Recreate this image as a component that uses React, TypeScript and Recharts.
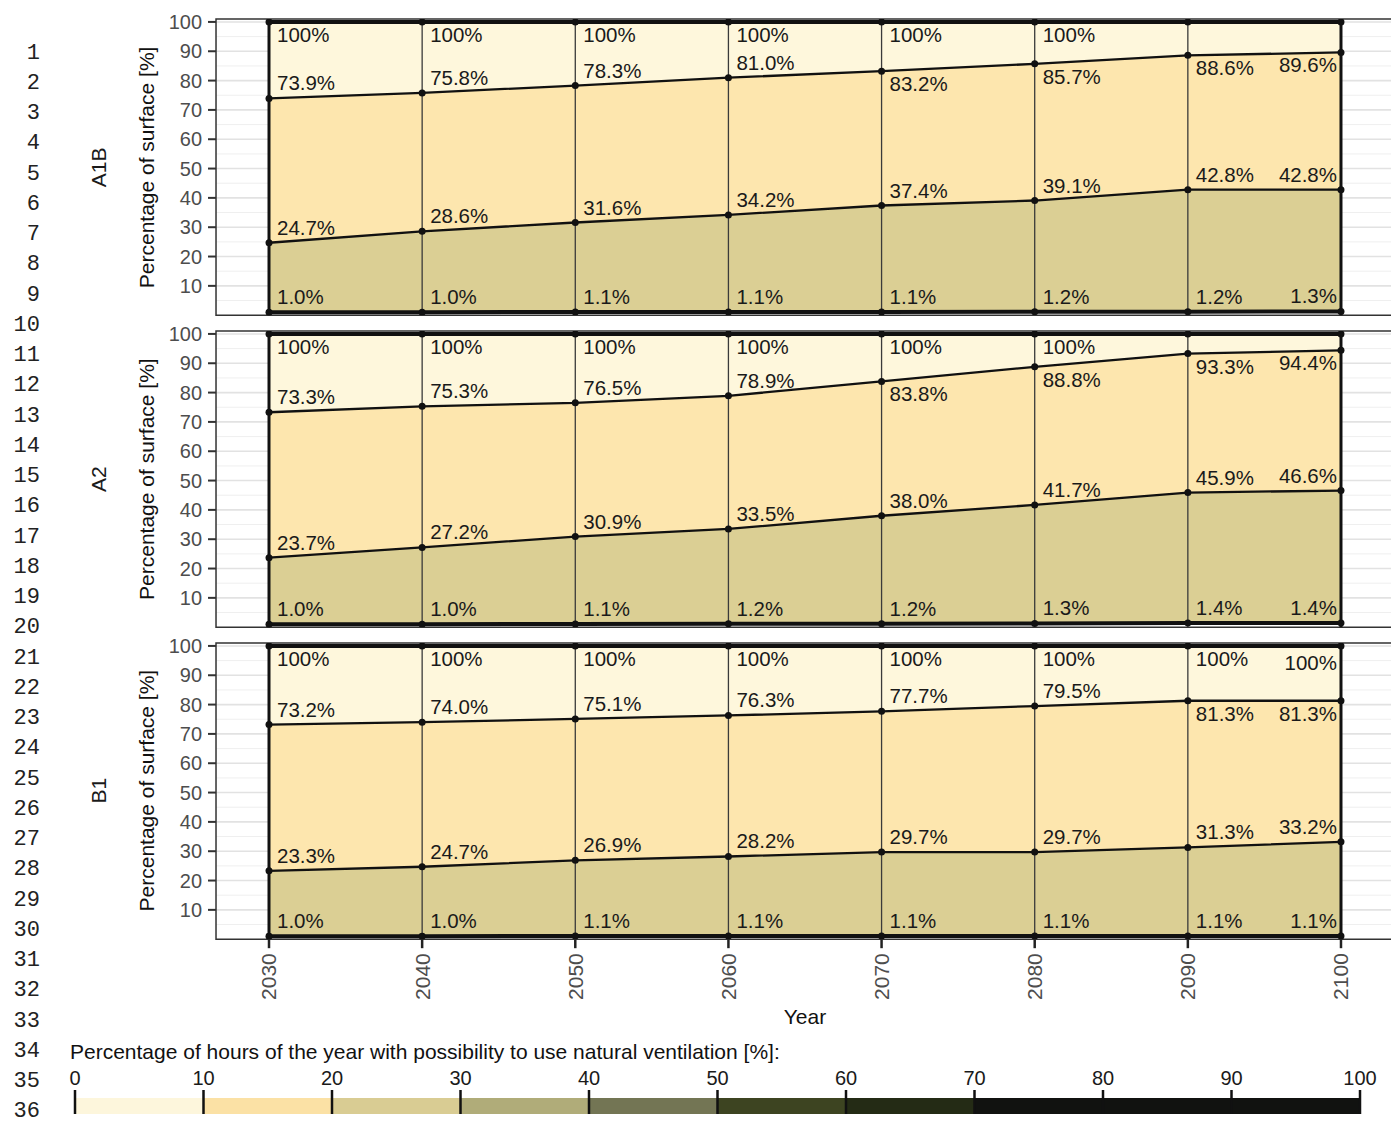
import React from 'react';
import {
  ComposedChart, Area, Line, XAxis, YAxis, CartesianGrid, ReferenceLine, ReferenceArea,
  LabelList, BarChart, Bar,
} from 'recharts';

const years = [2030, 2040, 2050, 2060, 2070, 2080, 2090, 2100];

const a1bBase = [1.0, 1.0, 1.1, 1.1, 1.1, 1.2, 1.2, 1.3];
const a1bLower = [24.7, 28.6, 31.6, 34.2, 37.4, 39.1, 42.8, 42.8];
const a1bUpper = [73.9, 75.8, 78.3, 81.0, 83.2, 85.7, 88.6, 89.6];
const a1bShowTop = [true, true, true, true, true, true, false, false];
const a1bUpperSide = ['above', 'above', 'above', 'above', 'below', 'below', 'below', 'below'];

const a2Base = [1.0, 1.0, 1.1, 1.2, 1.2, 1.3, 1.4, 1.4];
const a2Lower = [23.7, 27.2, 30.9, 33.5, 38.0, 41.7, 45.9, 46.6];
const a2Upper = [73.3, 75.3, 76.5, 78.9, 83.8, 88.8, 93.3, 94.4];
const a2ShowTop = [true, true, true, true, true, true, false, false];
const a2UpperSide = ['above', 'above', 'above', 'above', 'below', 'below', 'below', 'below'];

const b1Base = [1.0, 1.0, 1.1, 1.1, 1.1, 1.1, 1.1, 1.1];
const b1Lower = [23.3, 24.7, 26.9, 28.2, 29.7, 29.7, 31.3, 33.2];
const b1Upper = [73.2, 74.0, 75.1, 76.3, 77.7, 79.5, 81.3, 81.3];
const b1ShowTop = [true, true, true, true, true, true, true, true];
const b1UpperSide = ['above', 'above', 'above', 'above', 'above', 'above', 'below', 'below'];

const yTicks = [10, 20, 30, 40, 50, 60, 70, 80, 90, 100];
const yMinor = [5, 15, 25, 35, 45, 55, 65, 75, 85, 95];

const legendTicks = [0, 10, 20, 30, 40, 50, 60, 70, 80, 90, 100];
const legendColors = ['#fdf6dc', '#fbe1a5', '#d9cc93', '#b0ac79', '#737554', '#3d4421', '#242b15', '#111210', '#111210', '#111210'];

const bandColors = { low: '#dbcf94', mid: '#fde6ae', top: '#fef7dc' };

const FONT = '"Liberation Sans", Arial, sans-serif';
const X_DOMAIN: [number, number] = [2026.54, 2103.46];
const PLOT_H = 296.2;
const PANEL_TOPS = [19.3, 331, 642.5];

type Scenario = {
  name: string;
  base: number[];
  lower: number[];
  upper: number[];
  showTop: boolean[];
  upperSide: string[];
};

const scenarios: Scenario[] = [
  { name: 'A1B', base: a1bBase, lower: a1bLower, upper: a1bUpper, showTop: a1bShowTop, upperSide: a1bUpperSide },
  { name: 'A2', base: a2Base, lower: a2Lower, upper: a2Upper, showTop: a2ShowTop, upperSide: a2UpperSide },
  { name: 'B1', base: b1Base, lower: b1Lower, upper: b1Upper, showTop: b1ShowTop, upperSide: b1UpperSide },
];

const buildRows = (s: Scenario) =>
  years.map((year, i) => ({
    year,
    base: s.base[i],
    lower: s.lower[i],
    upper: s.upper[i],
    top: 100,
    bandLow: [s.base[i], s.lower[i]],
    bandMid: [s.lower[i], s.upper[i]],
    bandTop: [s.upper[i], 100],
  }));

const makeLabel = (texts: (string | null)[], sides: string[], lastExtra = 0) => (props: any) => {
  const { x, y, index } = props;
  const t = texts[index];
  if (t == null || x == null || y == null) return null;
  const last = index === years.length - 1;
  const dy = (sides[index] === 'above' ? -15.5 : 12.5) + (last ? lastExtra : 0);
  return (
    <text
      x={last ? x - 4 : x + 8}
      y={y + dy}
      textAnchor={last ? 'end' : 'start'}
      dominantBaseline="central"
      fontSize={20.5}
      fontFamily={FONT}
      fill="#1a1a1a"
    >
      {t}
    </text>
  );
};

const pct = (v: number) => `${v.toFixed(1)}%`;

const XTick = (props: any) => {
  const { x, y, payload } = props;
  return (
    <text
      x={x}
      y={y + 3}
      transform={`rotate(-90 ${x} ${y + 3})`}
      textAnchor="end"
      dominantBaseline="central"
      fontSize={21}
      fontFamily={FONT}
      fill="#4d4d4d"
    >
      {payload.value}
    </text>
  );
};

const Panel = ({ s, idx }: { s: Scenario; idx: number }) => {
  const rows = buildRows(s);
  const isLast = idx === scenarios.length - 1;
  const mt = 15;
  const xAxisH = isLast ? 90 : 0;
  const height = mt + PLOT_H + (isLast ? xAxisH : 6);
  const topTexts = s.showTop.map((v) => (v ? '100%' : null));
  const allAbove = years.map(() => 'above');
  const allBelow = years.map(() => 'below');
  return (
    <div style={{ position: 'absolute', left: 0, top: PANEL_TOPS[idx] - mt }}>
      <ComposedChart
        width={1394}
        height={height}
        data={rows}
        margin={{ top: mt, right: 0, bottom: isLast ? 0 : 6, left: 0 }}
      >
        <CartesianGrid vertical={false} horizontalValues={yMinor} stroke="#efefef" strokeWidth={1} />
        <CartesianGrid vertical={false} horizontalValues={yTicks} stroke="#e2e2e2" strokeWidth={1.6} />
        <XAxis
          type="number"
          dataKey="year"
          domain={X_DOMAIN}
          ticks={years}
          allowDataOverflow
          hide={!isLast}
          height={xAxisH}
          axisLine={false}
          tickLine={{ stroke: '#222', strokeWidth: 2.5 }}
          tickSize={9}
          tick={<XTick />}
          interval={0}
        />
        <YAxis
          type="number"
          domain={[0, 101]}
          ticks={yTicks}
          allowDataOverflow
          width={216}
          axisLine={false}
          tickLine={{ stroke: '#333', strokeWidth: 2 }}
          tickSize={8}
          tickMargin={6}
          tick={{ fontSize: 20, fontFamily: FONT, fill: '#4d4d4d' }}
          interval={0}
        />
        <Area type="linear" dataKey="bandLow" stroke="none" fill={bandColors.low} fillOpacity={1} isAnimationActive={false} />
        <Area type="linear" dataKey="bandMid" stroke="none" fill={bandColors.mid} fillOpacity={1} isAnimationActive={false} />
        <Area type="linear" dataKey="bandTop" stroke="none" fill={bandColors.top} fillOpacity={1} isAnimationActive={false} />
        <ReferenceArea x1={X_DOMAIN[0]} x2={X_DOMAIN[1]} y1={0} y2={101} fill="none" stroke="#333" strokeWidth={1.5} />
        {years.map((yr, i) => {
          const edge = i === 0 || i === years.length - 1;
          return (
            <ReferenceLine
              key={yr}
              x={yr}
              stroke={edge ? '#111' : '#3a3a3a'}
              strokeWidth={edge ? 3 : 1.3}
            />
          );
        })}
        <Line type="linear" dataKey="base" stroke="#111" strokeWidth={4} dot={{ r: 3.5, fill: '#111', stroke: 'none' }} isAnimationActive={false}>
          <LabelList dataKey="base" content={makeLabel(s.base.map(pct), allAbove)} />
        </Line>
        <Line type="linear" dataKey="lower" stroke="#111" strokeWidth={2.3} dot={{ r: 3.5, fill: '#111', stroke: 'none' }} isAnimationActive={false}>
          <LabelList dataKey="lower" content={makeLabel(s.lower.map(pct), allAbove)} />
        </Line>
        <Line type="linear" dataKey="upper" stroke="#111" strokeWidth={2.3} dot={{ r: 3.5, fill: '#111', stroke: 'none' }} isAnimationActive={false}>
          <LabelList dataKey="upper" content={makeLabel(s.upper.map(pct), s.upperSide)} />
        </Line>
        <Line type="linear" dataKey="top" stroke="#111" strokeWidth={4} dot={{ r: 3.5, fill: '#111', stroke: 'none' }} isAnimationActive={false}>
          <LabelList dataKey="top" content={makeLabel(topTexts, allBelow, 4)} />
        </Line>
      </ComposedChart>
    </div>
  );
};

const legendRow: Record<string, any> = { name: 'legend' };
legendColors.forEach((_, i) => {
  legendRow[`s${i}`] = legendTicks[i + 1] - legendTicks[i];
});

const Legend = () => (
  <div style={{ position: 'absolute', left: 0, top: 1060 }}>
    <BarChart
      width={1391}
      height={60}
      data={[legendRow]}
      layout="vertical"
      margin={{ top: 0, right: 31, bottom: 6, left: 75 }}
      barCategoryGap={0}
    >
      <XAxis
        type="number"
        orientation="top"
        domain={[0, 100]}
        ticks={legendTicks}
        height={38}
        axisLine={false}
        tickLine={{ stroke: '#111', strokeWidth: 2.5 }}
        tickSize={8}
        tickMargin={5}
        tick={{ fontSize: 20, fontFamily: FONT, fill: '#1a1a1a' }}
        interval={0}
      />
      <YAxis type="category" dataKey="name" hide />
      {legendColors.map((c, i) => (
        <Bar key={i} dataKey={`s${i}`} stackId="a" fill={c} isAnimationActive={false} />
      ))}
      {legendTicks.map((t) => (
        <ReferenceLine key={t} x={t} stroke="#111" strokeWidth={2.5} />
      ))}
    </BarChart>
  </div>
);

const lineNumbers = Array.from({ length: 36 }, (_, i) => i + 1);

export default function App() {
  return (
    <div
      style={{
        position: 'absolute',
        left: 0,
        top: 0,
        width: 1391,
        height: 1124,
        overflow: 'hidden',
        background: '#fff',
      }}
    >
      {scenarios.map((s, i) => (
        <Panel key={s.name} s={s} idx={i} />
      ))}
      <Legend />
      <svg width={1391} height={1124} style={{ position: 'absolute', left: 0, top: 0, pointerEvents: 'none' }}>
        {lineNumbers.map((n) => (
          <text
            key={n}
            x={40}
            y={53 + (n - 1) * 30.257}
            textAnchor="end"
            dominantBaseline="central"
            fontSize={22}
            fontFamily='"Liberation Mono", "DejaVu Sans Mono", monospace'
            fill="#222"
          >
            {n}
          </text>
        ))}
        {scenarios.map((s, i) => {
          const cy = PANEL_TOPS[i] + PLOT_H / 2;
          return (
            <g key={s.name}>
              <text
                x={99}
                y={cy}
                transform={`rotate(-90 99 ${cy})`}
                textAnchor="middle"
                dominantBaseline="central"
                fontSize={21}
                fontFamily={FONT}
                fill="#1a1a1a"
              >
                {s.name}
              </text>
              <text
                x={147}
                y={cy}
                transform={`rotate(-90 147 ${cy})`}
                textAnchor="middle"
                dominantBaseline="central"
                fontSize={21}
                fontFamily={FONT}
                fill="#111"
              >
                Percentage of surface [%]
              </text>
            </g>
          );
        })}
        <text x={805} y={1016} textAnchor="middle" dominantBaseline="central" fontSize={21} fontFamily={FONT} fill="#111">
          Year
        </text>
        <text x={70} y={1051} dominantBaseline="central" fontSize={21} fontFamily={FONT} fill="#111">
          Percentage of hours of the year with possibility to use natural ventilation [%]:
        </text>
      </svg>
    </div>
  );
}
